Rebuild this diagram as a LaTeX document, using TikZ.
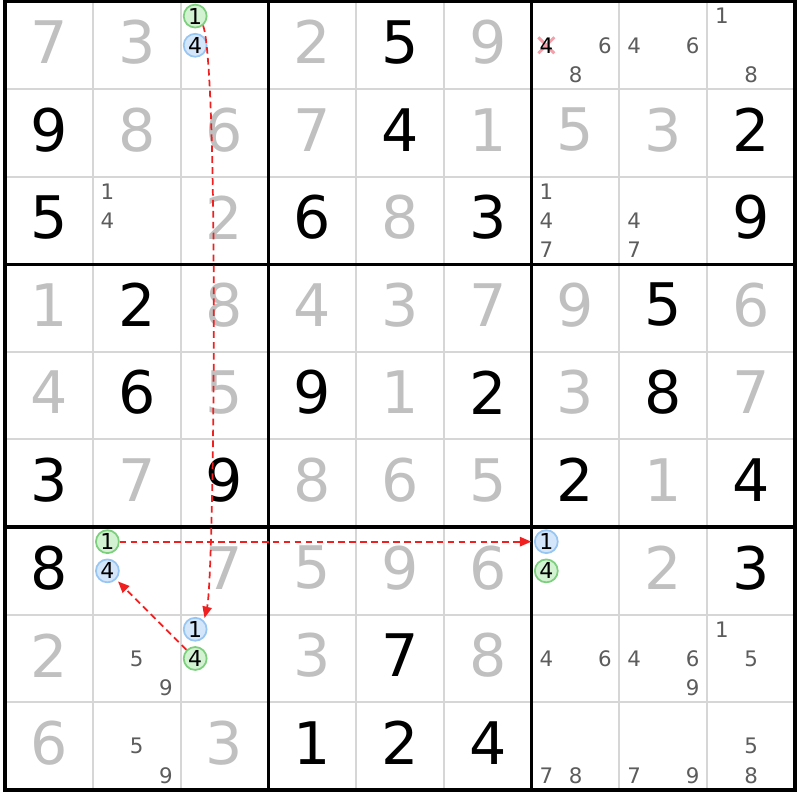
\documentclass[tikz,border=0pt]{standalone}
\usepackage{fontspec}
\setmainfont{DejaVu Sans}
\usetikzlibrary{arrows.meta}
\definecolor{solved}{HTML}{C0C0C0}
\definecolor{candgray}{HTML}{5C5C5C}
\definecolor{thingrid}{HTML}{D6D6D6}
\definecolor{linkred}{HTML}{F02020}
\definecolor{strongfill}{HTML}{D2F2D2}
\definecolor{strongline}{HTML}{7CCF7C}
\definecolor{weakfill}{HTML}{D4E6FA}
\definecolor{weakline}{HTML}{98C6F2}
\definecolor{elimpink}{HTML}{F4A0AA}

\begin{document}
\begin{tikzpicture}[x=65.835pt, y=-65.7pt,
    given/.style={inner sep=0pt, font=\fontsize{44}{44}\selectfont},
    cand/.style={inner sep=0pt, text=candgray, font=\fontsize{16}{16}\selectfont},
    oncircle/.style={circle, inner sep=0pt, minimum size=17.2pt, line width=1.3pt, font=\fontsize{16.5}{16.5}\selectfont},
    strong/.style={oncircle, fill=strongfill, draw=strongline},
    weak/.style={oncircle, fill=weakfill, draw=weakline},
    link/.style={draw=linkred, line width=1.3pt, dash pattern=on 5pt off 3.2pt, shorten >=2pt, -{Triangle[length=8.5pt,width=7pt]}}]
    \useasboundingbox[fill=white] (-0.057,-0.017) rectangle (9.057,9.115);
    % Grid
    \foreach \i in {1,2,4,5,7,8} {
        \draw[thingrid, line width=1.5pt] (\i,0) -- (\i,9);
        \draw[thingrid, line width=1.5pt] (0,\i) -- (9,\i);
    }
    \foreach \i in {3,6} {
        \draw[line width=2.4pt] (\i,0) -- (\i,9);
        \draw[line width=2.4pt] (0,\i) -- (9,\i);
    }
    \draw[line width=2.8pt] (0,0) rectangle (9,9);
    % Given digits
    \foreach \r/\c/\v in {0/4/5, 1/0/9, 1/4/4, 1/8/2, 2/0/5, 2/3/6, 2/5/3, 2/8/9,
        3/1/2, 3/7/5, 4/1/6, 4/3/9, 4/5/2, 4/7/8, 5/0/3, 5/2/9, 5/6/2, 5/8/4,
        6/0/8, 6/8/3, 7/4/7, 8/3/1, 8/4/2, 8/5/4} {
        \node[given] (Given-\r-\c) at (\c+0.5,\r+0.465) {\v};
    }
    % Solved digits
    \foreach \r/\c/\v in {0/0/7, 0/1/3, 0/3/2, 0/5/9, 1/1/8, 1/2/6, 1/3/7, 1/5/1, 1/6/5, 1/7/3,
        2/2/2, 2/4/8, 3/0/1, 3/2/8, 3/3/4, 3/4/3, 3/5/7, 3/6/9, 3/8/6,
        4/0/4, 4/2/5, 4/4/1, 4/6/3, 4/8/7, 5/1/7, 5/3/8, 5/4/6, 5/5/5, 5/7/1,
        6/2/7, 6/3/5, 6/4/9, 6/5/6, 6/7/2, 7/0/2, 7/3/3, 7/5/8, 8/0/6, 8/2/3} {
        \node[given, text=solved] (Solved-\r-\c) at (\c+0.5,\r+0.465) {\v};
    }
    % Eliminated candidate
    \coordinate (Elim-0-6-4) at (6+1/6,0.5);
    \draw[elimpink, line width=2.2pt] ([shift={(-6pt,-6pt)}]Elim-0-6-4) -- ([shift={(6pt,6pt)}]Elim-0-6-4);
    \draw[elimpink, line width=2.2pt] ([shift={(-6pt,6pt)}]Elim-0-6-4) -- ([shift={(6pt,-6pt)}]Elim-0-6-4);
    \node[cand, text=black] (Cand-0-6-4) at (Elim-0-6-4) {4};
    % Candidates
    \foreach \r/\c/\ds in {0/6/{6,8}, 0/7/{4,6}, 0/8/{1,8}, 2/1/{1,4}, 2/6/{1,4,7}, 2/7/{4,7},
        7/1/{5,9}, 7/6/{4,6}, 7/7/{4,6,9}, 7/8/{1,5}, 8/1/{5,9}, 8/6/{7,8}, 8/7/{7,9}, 8/8/{5,8}} {
        \foreach \d in \ds {
            \pgfmathtruncatemacro\crow{(\d-1)/3}
            \pgfmathtruncatemacro\ccol{\d-1-3*\crow}
            \node[cand] (Cand-\r-\c-\d) at ({\c+(\ccol+0.5)/3},{\r+(\crow+0.5)/3}) {\d};
        }
    }
    % Chain candidates
    \foreach \r/\c/\one/\four in {0/2/strong/weak, 6/1/strong/weak, 6/6/weak/strong, 7/2/weak/strong} {
        \node[\one] (Cand-\r-\c-1) at ({\c+1/6},{\r+1/6}) {1};
        \node[\four] (Cand-\r-\c-4) at ({\c+1/6},{\r+0.5}) {4};
    }
    % Links
    \draw[link] (Cand-0-2-1.-50) .. controls +(0.18,0.5) and +(0.12,-0.5) .. (Cand-7-2-1.45);
    \draw[link] (Cand-6-1-1) -- (Cand-6-6-1);
    \draw[link] (Cand-7-2-4) -- (Cand-6-1-4);
\end{tikzpicture}
\end{document}
